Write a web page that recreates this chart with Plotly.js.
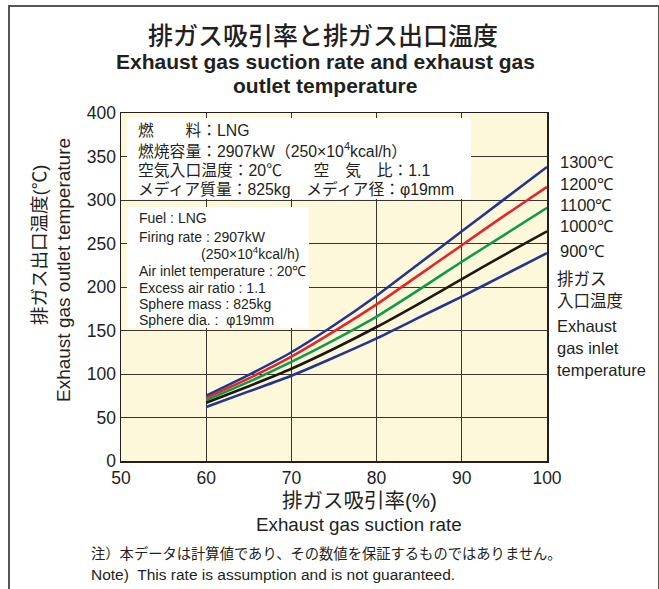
<!DOCTYPE html>
<html><head><meta charset="utf-8">
<script src="https://cdn.plot.ly/plotly-3.0.1.min.js"></script>
<style>
html,body{margin:0;padding:0;background:#fff;}
#wrap{position:absolute;left:0;top:0;width:659px;height:589px;}
#frame{position:absolute;left:8px;top:5px;width:648px;height:600px;border:2px solid #5a5553;border-bottom:none;pointer-events:none;}
#chart{position:absolute;left:0;top:0;width:659px;height:589px;}
</style></head>
<body>
<div id="wrap"><div id="chart"></div><div id="frame"></div></div>
<script>
const suctionRate = [60, 65, 70, 75, 80, 85, 90, 95, 100];
const seriesNames = ['1300℃', '1200℃', '1100℃', '1000℃', '900℃'];
const t1300 = [75, 99, 125, 156, 190, 227, 264, 301, 338];
const t1200 = [72.5, 95, 120, 149, 180, 214, 248, 282, 315];
const t1100 = [70, 91, 114, 139, 166, 197, 229, 260, 291];
const t1000 = [67, 86, 106, 129, 154, 181, 209, 237, 264];
const t900  = [62, 80, 98, 119, 141, 165, 189, 214, 239];
const xTicks = [50, 60, 70, 80, 90, 100];
const yTicks = [0, 50, 100, 150, 200, 250, 300, 350, 400];
const rightLabels = ['1300℃', '1200℃', '1100℃', '1000℃', '900℃', '排ガス', '入口温度', 'Exhaust', 'gas inlet', 'temperature'];
const infoJP = ['燃　　料：LNG', '燃焼容量：2907kW（250×10<sup>4</sup>kcal/h）', '空気入口温度：20℃　　空　気　比：1.1', 'メディア質量：825kg　メディア径：φ19mm'];
const infoEN = ['Fuel : LNG', 'Firing rate : 2907kW', '(250×10<sup>4</sup>kcal/h)', 'Air inlet temperature : 20℃', 'Excess air ratio : 1.1', 'Sphere mass : 825kg', 'Sphere dia. :  φ19mm'];

const colors = ['#23358f', '#e8242b', '#0e9a4a', '#1e1714', '#23358f'];
const seriesData = [t1300, t1200, t1100, t1000, t900];
const traces = seriesData.map((ys, i) => ({
  x: suctionRate, y: ys, name: seriesNames[i], type: 'scatter', mode: 'lines',
  line: {color: colors[i], width: 2.6, shape: 'spline', smoothing: 0.6},
  hoverinfo: 'skip'
}));

const EN = 'Arial, Liberation Sans, sans-serif';
const MIX = 'Arial, Liberation Sans, Noto Sans CJK JP, sans-serif';
const TXT = '#231f20';
const L = 121, R = 547, T = 113, B = 461;
const px = v => (v - L) / (R - L);
const py = v => (B - v) / (B - T);

const ann = [];
function addText(x, y, text, font, size, opts) {
  ann.push(Object.assign({xref:'paper', yref:'paper', x: px(x), y: py(y), text: text, showarrow:false,
    font:{family: font, size: size, color: TXT}, xanchor:'left', yanchor:'middle'}, opts || {}));
}
addText(323, 36, '排ガス吸引率と排ガス出口温度', MIX, 25, {xanchor:'center', font:{family: MIX, size: 25, color: TXT, weight: 500}});
addText(325, 62, 'Exhaust gas suction rate and exhaust gas', EN, 21, {xanchor:'center', font:{family: EN, size: 21, color: TXT, weight: 'bold'}});
addText(325, 85, 'outlet temperature', EN, 21, {xanchor:'center', font:{family: EN, size: 21, color: TXT, weight: 'bold'}});
// y axis titles
addText(39, 245, '排ガス出口温度(℃)', MIX, 18.5, {xanchor:'center', textangle:-90});
addText(63, 270, 'Exhaust gas outlet temperature', EN, 19, {xanchor:'center', textangle:-90});
// x axis titles
addText(359, 500, '排ガス吸引率(%)', MIX, 20.5, {xanchor:'center'});
addText(359, 524, 'Exhaust gas suction rate', EN, 18.8, {xanchor:'center'});
// notes
addText(89, 553, '注）本データは計算値であり、その数値を保証するものではありません。', MIX, 14.3);
addText(89, 574, 'Note)  This rate is assumption and is not guaranteed.', EN, 15.5);
// right labels
const rightY = [162, 184, 205, 226, 251, 279, 301, 326, 348, 370];
rightLabels.forEach((t, i) => {
  const isJP = /[\u3040-\u30ff\u4e00-\u9fff]/.test(t);
  addText(i < 5 ? 558 : 555, rightY[i], t, isJP ? MIX : EN, 16.5);
});
// info boxes
const jpY = [130, 150, 170, 189];
infoJP.forEach((t, i) => addText(136, jpY[i], t, MIX, 15.8));
const enY = [218, 237, 253, 271, 288, 304, 320];
const enX = [137, 137, 199, 137, 137, 137, 137];
infoEN.forEach((t, i) => addText(enX[i], enY[i], t, EN, 14));

const shapes = [
  {type:'rect', xref:'paper', yref:'paper', x0: px(127), x1: px(471), y0: py(118), y1: py(199), fillcolor:'#ffffff', line:{width:0}, layer:'above'},
  {type:'rect', xref:'paper', yref:'paper', x0: px(127), x1: px(309), y0: py(207), y1: py(328), fillcolor:'#ffffff', line:{width:0}, layer:'above'}
];

const layout = {
  width: 659, height: 589,
  margin: {l: L, r: 659 - R, t: T, b: 589 - B},
  paper_bgcolor: '#ffffff', plot_bgcolor: '#fdf8d9',
  showlegend: false,
  font: {family: EN, color: TXT},
  xaxis: {range: [50, 100], tickvals: xTicks, ticktext: xTicks.map(String), showgrid: true, gridcolor: '#3a3330', gridwidth: 1,
    showline: true, mirror: true, linecolor: '#231f20', linewidth: 1.5, zeroline: false, ticks: '',
    tickfont: {family: EN, size: 17.5, color: TXT}, fixedrange: true},
  yaxis: {range: [0, 400], tickvals: yTicks, ticktext: yTicks.map(String), showgrid: true, gridcolor: '#3a3330', gridwidth: 1,
    showline: true, mirror: true, linecolor: '#231f20', linewidth: 1.5, zeroline: false, ticks: '',
    tickfont: {family: EN, size: 17.5, color: TXT}, fixedrange: true},
  shapes: shapes,
  annotations: ann
};
Plotly.newPlot('chart', traces, layout, {displayModeBar: false, staticPlot: true});
</script>
</body></html>
